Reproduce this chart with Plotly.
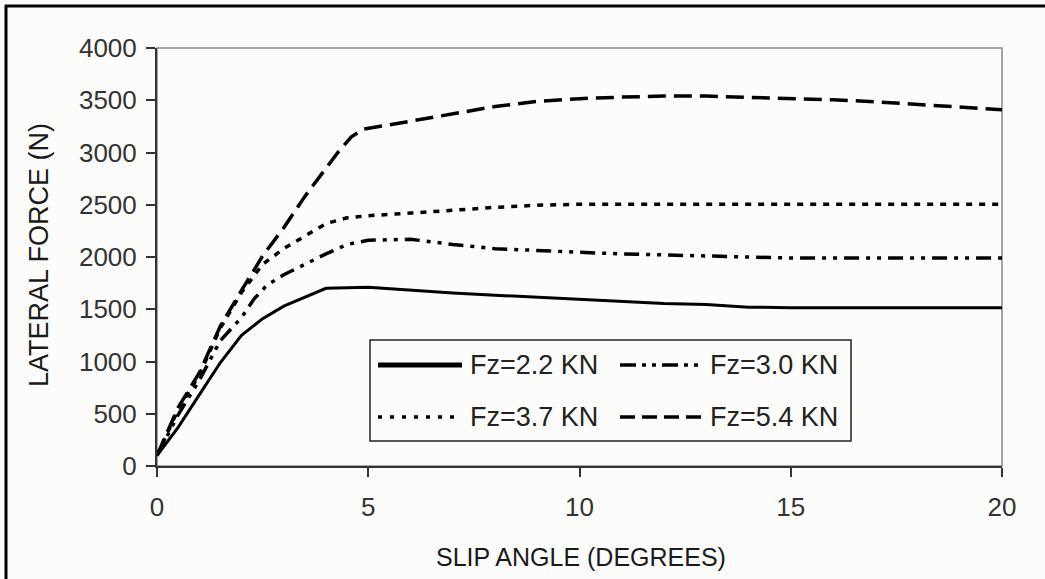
import plotly.graph_objects as go

# Slip angle (degrees) and lateral force (N) for four vertical loads
slip_22 = [0, 0.5, 1, 1.5, 2, 2.5, 3, 3.5, 4, 5, 6, 7, 8, 9, 10, 11, 12, 13, 14, 15, 16, 17, 18, 19, 20]
force_22 = [100, 370, 680, 990, 1250, 1410, 1530, 1615, 1700, 1710, 1680, 1655, 1635, 1615, 1595, 1575, 1555, 1545, 1520, 1515, 1515, 1515, 1515, 1515, 1515]

slip_30 = [0, 0.5, 1, 1.5, 2, 2.3, 2.6, 3, 3.5, 4, 4.5, 5, 6, 7, 8, 9, 10, 11, 12, 13, 14, 15, 16, 17, 18, 19, 20]
force_30 = [100, 490, 820, 1200, 1420, 1600, 1730, 1830, 1930, 2030, 2120, 2160, 2170, 2120, 2080, 2060, 2045, 2030, 2020, 2005, 1995, 1990, 1990, 1990, 1990, 1990, 1990]

slip_37 = [0, 0.5, 1, 1.5, 2, 2.5, 3, 3.5, 4, 4.5, 5, 6, 7, 8, 9, 10, 12, 14, 16, 18, 20]
force_37 = [100, 540, 870, 1320, 1660, 1930, 2080, 2200, 2320, 2375, 2395, 2420, 2450, 2475, 2495, 2505, 2505, 2505, 2505, 2505, 2505]

slip_54 = [0, 0.5, 1, 1.5, 2, 2.5, 3, 3.5, 4, 4.3, 4.6, 4.9, 5.5, 6, 7, 8, 9, 10, 11, 12, 13, 14, 15, 16, 17, 18, 19, 20]
force_54 = [100, 560, 890, 1340, 1680, 2010, 2280, 2580, 2850, 3010, 3150, 3225, 3265, 3300, 3375, 3440, 3490, 3515, 3530, 3540, 3540, 3530, 3520, 3505, 3485, 3460, 3435, 3410]

series_names = ["Fz=2.2 KN", "Fz=3.0 KN", "Fz=3.7 KN", "Fz=5.4 KN"]
x_ticks = [0, 5, 10, 15, 20]
y_ticks = [0, 500, 1000, 1500, 2000, 2500, 3000, 3500, 4000]

FONT = "Arial, Liberation Sans, sans-serif"
BG = "#fcfcfa"

styles = [
    dict(width=3, dash="solid"),
    dict(width=3.5, dash="15px,7px,4px,7px,4px,7px"),
    dict(width=3.5, dash="6px,7px"),
    dict(width=3.5, dash="18px,8px"),
]
data = [(slip_22, force_22), (slip_30, force_30), (slip_37, force_37), (slip_54, force_54)]

fig = go.Figure()
for (xs, ys), name, st in zip(data, series_names, styles):
    fig.add_trace(go.Scatter(x=xs, y=ys, mode="lines", name=name, showlegend=False,
                             line=dict(color="black", **st)))

# plot-area geometry in pixels, used to place the hand-drawn legend and frame
L, R, T, B = 157, 1002, 48, 466
W, H = R - L, B - T


def px(xp):
    return (xp - L) / W


def py(yp):
    return (B - yp) / H


shapes = [
    # plot area border (top / right in grey)
    dict(type="rect", xref="paper", yref="paper", x0=0, x1=1, y0=0, y1=1,
         line=dict(color="#8a8a8a", width=1.5), layer="below"),
    # outer frame (left and top edges)
    dict(type="line", xref="paper", yref="paper", x0=px(6), x1=px(6), y0=py(5), y1=py(600),
         line=dict(color="black", width=3)),
    dict(type="line", xref="paper", yref="paper", x0=px(5), x1=px(1060), y0=py(6), y1=py(6),
         line=dict(color="black", width=3)),
    # legend box
    dict(type="rect", xref="paper", yref="paper", x0=px(370), x1=px(851), y0=py(441), y1=py(340),
         line=dict(color="#222", width=1.5), fillcolor=BG, layer="above"),
]

legend_rows = [365, 417]
legend_cols = [(378, 462, 468), (620, 702, 708)]
legend_styles = [
    dict(width=5, dash="solid"),
    dict(width=3.5, dash="16px,6px,4px,6px,4px,6px"),
    dict(width=3.5, dash="4px,8px"),
    dict(width=3.5, dash="15px,7px"),
]
annotations = []
for i, name in enumerate(series_names):
    row, col = divmod(i, 2)
    x0, x1, xt = legend_cols[col]
    yy = legend_rows[row]
    shapes.append(dict(type="line", xref="paper", yref="paper", x0=px(x0), x1=px(x1),
                       y0=py(yy), y1=py(yy), line=dict(color="black", **legend_styles[i])))
    annotations.append(dict(xref="paper", yref="paper", x=px(xt), y=py(yy), text=name,
                            showarrow=False, xanchor="left", yanchor="middle",
                            font=dict(family=FONT, size=27, color="#222")))

# axis titles
annotations.append(dict(xref="paper", yref="paper", x=px(581), y=py(557),
                        text="SLIP ANGLE (DEGREES)", showarrow=False,
                        xanchor="center", yanchor="middle",
                        font=dict(family=FONT, size=25, color="#1a1a1a")))
annotations.append(dict(xref="paper", yref="paper", x=px(39), y=py(255),
                        text="LATERAL FORCE (N)", showarrow=False, textangle=-90,
                        xanchor="center", yanchor="middle",
                        font=dict(family=FONT, size=27, color="#1a1a1a")))

fig.update_layout(
    width=1045, height=579,
    margin=dict(l=L, r=1045 - R, t=T, b=579 - B),
    paper_bgcolor=BG, plot_bgcolor=BG,
    showlegend=False,
    shapes=shapes,
    annotations=annotations,
)
fig.update_xaxes(range=[0, 20], tickvals=x_ticks, ticks="outside", ticklen=9, tickwidth=2,
                 tickcolor="#333", showline=True, linecolor="#333", linewidth=2,
                 showgrid=False, zeroline=False, ticklabelstandoff=8,
                 tickfont=dict(family=FONT, size=26, color="#333"))
fig.update_yaxes(range=[0, 4000], tickvals=y_ticks, ticks="outside", ticklen=9, tickwidth=2,
                 tickcolor="#333", showline=True, linecolor="#333", linewidth=2,
                 showgrid=False, zeroline=False, ticklabelstandoff=4,
                 tickfont=dict(family=FONT, size=26, color="#333"))

fig.write_html("out.html")
